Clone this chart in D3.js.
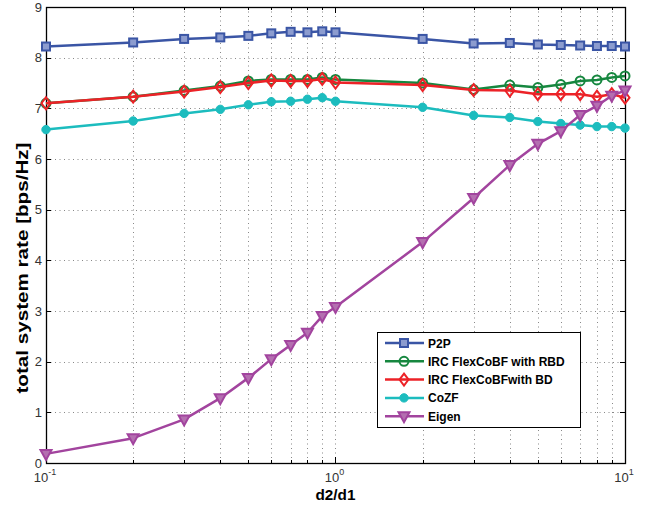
<!DOCTYPE html>
<html>
<head>
<meta charset="utf-8">
<script src="https://cdn.jsdelivr.net/npm/d3@7"></script>
<style>
  body { margin: 0; background: #fff; }
  text { font-family: "Liberation Sans", Arial, sans-serif; }
</style>
</head>
<body>
<svg id="chart" width="646" height="506"></svg>
<script>
// ratio d2/d1 sample points
const xValues = [0.1, 0.2, 0.3, 0.4, 0.5, 0.6, 0.7, 0.8, 0.9, 1, 2, 3, 4, 5, 6, 7, 8, 9, 10];

const p2p   = [8.22, 8.30, 8.37, 8.40, 8.43, 8.48, 8.51, 8.50, 8.52, 8.50, 8.37, 8.28, 8.29, 8.26, 8.25, 8.24, 8.23, 8.23, 8.22];
const ircRBD = [7.10, 7.23, 7.35, 7.44, 7.54, 7.57, 7.57, 7.57, 7.61, 7.57, 7.50, 7.37, 7.46, 7.41, 7.47, 7.54, 7.56, 7.61, 7.64];
const ircBD  = [7.10, 7.23, 7.33, 7.42, 7.50, 7.55, 7.54, 7.54, 7.58, 7.51, 7.46, 7.36, 7.35, 7.28, 7.28, 7.28, 7.23, 7.28, 7.21];
const cozf  = [6.58, 6.75, 6.90, 6.98, 7.07, 7.13, 7.14, 7.18, 7.21, 7.14, 7.02, 6.86, 6.82, 6.74, 6.70, 6.67, 6.64, 6.64, 6.61];
const eigen = [0.18, 0.49, 0.86, 1.28, 1.68, 2.05, 2.33, 2.57, 2.90, 3.08, 4.36, 5.23, 5.88, 6.30, 6.55, 6.87, 7.05, 7.25, 7.35];

const yTicks = [0, 1, 2, 3, 4, 5, 6, 7, 8, 9];
const xMajor = [0.1, 1, 10];
const xMinor = [0.2, 0.3, 0.4, 0.5, 0.6, 0.7, 0.8, 0.9, 2, 3, 4, 5, 6, 7, 8, 9];

const series = [
  { name: "P2P", values: p2p, color: "#3a55a5", marker: "square" },
  { name: "IRC FlexCoBF with RBD", values: ircRBD, color: "#16873f", marker: "circle" },
  { name: "IRC FlexCoBFwith BD", values: ircBD, color: "#ec2227", marker: "diamond" },
  { name: "CoZF", values: cozf, color: "#1cbcbe", marker: "dot" },
  { name: "Eigen", values: eigen, color: "#a2449e", marker: "triangle" }
];

const svg = d3.select("#chart");
const margin = { left: 46, top: 7, right: 21, bottom: 43 };
const W = 646, H = 506;

const x = d3.scaleLog().domain([0.1, 10]).range([margin.left, W - margin.right]);
const y = d3.scaleLinear().domain([0, 9]).range([H - margin.bottom, margin.top]);

const [x0, x1] = x.range();
const [yb, yt] = y.range();

// grid
const grid = svg.append("g").attr("stroke", "#888").attr("stroke-width", 1)
  .attr("stroke-dasharray", "1,3.5");
grid.selectAll("line.gx").data(xMajor.concat(xMinor).filter(v => v > 0.1 && v < 10))
  .join("line")
  .attr("x1", d => Math.round(x(d)) + 0.5).attr("x2", d => Math.round(x(d)) + 0.5)
  .attr("y1", yt).attr("y2", yb);
grid.selectAll("line.gy").data(yTicks.filter(v => v > 0 && v < 9))
  .join("line")
  .attr("y1", d => Math.round(y(d)) + 0.5).attr("y2", d => Math.round(y(d)) + 0.5)
  .attr("x1", x0).attr("x2", x1);

// axes box + inward ticks
const ax = svg.append("g").attr("stroke", "#000").attr("fill", "none");
ax.append("rect").attr("x", x0 + 0.5).attr("y", yt + 0.5)
  .attr("width", x1 - x0).attr("height", yb - yt).attr("stroke-width", 1.3);

yTicks.forEach(v => {
  const py = Math.round(y(v)) + 0.5;
  ax.append("line").attr("x1", x0).attr("x2", x0 + 5).attr("y1", py).attr("y2", py);
  ax.append("line").attr("x1", x1 - 5).attr("x2", x1).attr("y1", py).attr("y2", py);
});
xMajor.forEach(v => {
  const px = Math.round(x(v)) + 0.5;
  ax.append("line").attr("x1", px).attr("x2", px).attr("y1", yb).attr("y2", yb - 6);
  ax.append("line").attr("x1", px).attr("x2", px).attr("y1", yt).attr("y2", yt + 6);
});
xMinor.forEach(v => {
  const px = Math.round(x(v)) + 0.5;
  ax.append("line").attr("x1", px).attr("x2", px).attr("y1", yb).attr("y2", yb - 3);
  ax.append("line").attr("x1", px).attr("x2", px).attr("y1", yt).attr("y2", yt + 3);
});

// tick labels
svg.append("g").selectAll("text").data(yTicks).join("text")
  .attr("x", x0 - 4).attr("y", d => y(d) + 4.5)
  .attr("text-anchor", "end").attr("font-size", 13).attr("fill", "#333")
  .text(d => d);

const xl = svg.append("g").selectAll("text").data(xMajor).join("text")
  .attr("x", d => x(d) - 1).attr("y", yb + 19)
  .attr("text-anchor", "middle").attr("font-size", 13).attr("fill", "#333");
xl.append("tspan").text("10");
xl.append("tspan").attr("dy", -7).attr("font-size", 9).text(d => Math.round(Math.log10(d)));

// axis titles
svg.append("text").attr("x", (x0 + x1) / 2).attr("y", 500)
  .attr("text-anchor", "middle").attr("font-size", 15).attr("font-weight", "bold")
  .attr("textLength", 40).attr("lengthAdjust", "spacingAndGlyphs")
  .text("d2/d1");
svg.append("text").attr("transform", `translate(28,${(yt + yb) / 2 + 33}) rotate(-90)`)
  .attr("text-anchor", "middle").attr("font-size", 16).attr("font-weight", "bold")
  .attr("textLength", 251).attr("lengthAdjust", "spacingAndGlyphs")
  .text("total system rate [bps/Hz]");

// markers
function drawMarker(g, kind, color) {
  if (kind === "square") {
    g.append("rect").attr("x", -4).attr("y", -4).attr("width", 8).attr("height", 8)
      .attr("fill", "#8c9ccf").attr("stroke", color).attr("stroke-width", 2);
  } else if (kind === "circle") {
    g.append("circle").attr("r", 4.5).attr("fill", "none").attr("stroke", color).attr("stroke-width", 2);
  } else if (kind === "diamond") {
    g.append("path").attr("d", "M0,-6L4.5,0L0,6L-4.5,0Z")
      .attr("fill", "none").attr("stroke", color).attr("stroke-width", 2);
  } else if (kind === "dot") {
    g.append("circle").attr("r", 4.2).attr("fill", color).attr("stroke", color).attr("stroke-width", 1);
  } else if (kind === "triangle") {
    g.append("path").attr("d", "M-5.5,-4L5.5,-4L0,6Z")
      .attr("fill", "#b46fb0").attr("stroke", color).attr("stroke-width", 2);
  }
}

const line = d3.line().x(d => x(d[0])).y(d => y(d[1]));

const plot = svg.append("g");
series.forEach(s => {
  const pts = xValues.map((v, i) => [v, s.values[i]]);
  const g = plot.append("g");
  g.append("path").attr("d", line(pts)).attr("fill", "none")
    .attr("stroke", s.color).attr("stroke-width", 2.5).attr("stroke-linejoin", "round");
  pts.forEach(p => {
    drawMarker(g.append("g").attr("transform", `translate(${x(p[0])},${y(p[1])})`), s.marker, s.color);
  });
});

// legend
const lg = svg.append("g").attr("transform", "translate(377,332)");
lg.append("rect").attr("x", 0.5).attr("y", 0.5).attr("width", 203).attr("height", 95)
  .attr("fill", "#fff").attr("stroke", "#000").attr("stroke-width", 1);
series.forEach((s, i) => {
  const row = lg.append("g").attr("transform", `translate(0,${11 + i * 18.3})`);
  row.append("line").attr("x1", 8).attr("x2", 47).attr("y1", 0).attr("y2", 0)
    .attr("stroke", s.color).attr("stroke-width", 2.5);
  drawMarker(row.append("g").attr("transform", "translate(27,0)"), s.marker, s.color);
  row.append("text").attr("x", 51).attr("y", 4.5).attr("font-size", 12)
    .attr("font-weight", "bold").text(s.name);
});
</script>
</body>
</html>
